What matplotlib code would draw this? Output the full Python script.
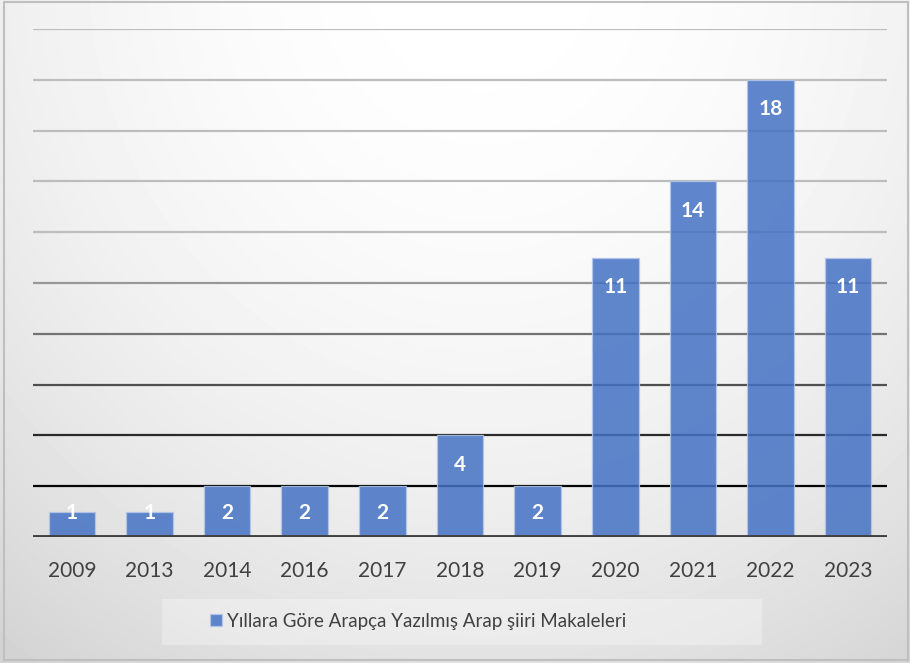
import numpy as np
import matplotlib
matplotlib.use("Agg")
from matplotlib import pyplot as plt
from matplotlib.patches import Rectangle

# veriler
years = ["2009", "2013", "2014", "2016", "2017", "2018", "2019", "2020", "2021", "2022", "2023"]
counts = [1, 1, 2, 2, 2, 4, 2, 11, 14, 18, 11]
series_name = "Yıllara Göre Arapça Yazılmış Arap şiiri Makaleleri"

plt.rcParams['font.family'] = ['Lato', 'DejaVu Sans']

W, H = 910, 663
fig = plt.figure(figsize=(W / 100, H / 100), dpi=100)

# arka plan gradyanı (beyaz merkez, gri kenarlar)
bg = fig.add_axes([0, 0, 1, 1], zorder=-10)
xx, yy = np.meshgrid(np.arange(W), np.arange(H))
r = np.sqrt(((xx - 480) / 455.0) ** 2 + ((yy + 40) / 500.0) ** 2)
g = np.clip(255 - 14.7 * r ** 2, 0, 255) / 255.0
bg.imshow(g, cmap="gray", vmin=0, vmax=1, aspect="auto", interpolation="bilinear")
bg.axis("off")

ax = fig.add_axes([33 / W, 1 - 537 / H, (887 - 33) / W, (537 - 29) / H])
ax.patch.set_alpha(0)
x = np.arange(len(years))

# yatay ızgara çizgileri (yukarıdan aşağı koyulaşan)
for lv in range(2, 21, 2):
    c = float(np.interp(lv, [2, 12], [0.02, 0.74]))
    ax.axhline(lv, color=(c, c, c), lw=1.6, zorder=1)
ax.axhline(0, color="#404040", lw=2.8, zorder=3)

bars = ax.bar(x, counts, width=0.6, color="#4472C4", alpha=0.85,
              edgecolor="#b4c7ea", linewidth=0.9, zorder=2, label=series_name)

for xi, v in zip(x, counts):
    ax.text(xi, max(v - 1.15, 0.95), str(v), ha="center", va="center",
            color="white", fontsize=15, fontweight="bold", zorder=4)

ax.set_xlim(-0.5, len(years) - 0.5)
ax.set_ylim(0, 20)
ax.set_xticks(x)
ax.set_xticklabels(years, fontsize=15, color="#404040")
ax.tick_params(axis="x", length=0, pad=17)
ax.set_yticks([])
for s in ax.spines.values():
    s.set_visible(False)

# lejant kutusu
fig.patches.append(Rectangle((162 / W, 1 - 645 / H), 600 / W, 46 / H,
                             transform=fig.transFigure, facecolor="white",
                             alpha=0.3, edgecolor="none", zorder=0))
fig.legend(handles=[bars], labels=[series_name], loc="center",
           bbox_to_anchor=(418 / W, 1 - 621 / H), frameon=False,
           fontsize=13.5, labelcolor="#404040", handlelength=0.62,
           handleheight=0.62, handletextpad=0.25)

# dış çerçeve
fig.patches.append(Rectangle((3.5 / W, 1 - 659.5 / H), 904 / W, 658 / H,
                             transform=fig.transFigure, facecolor="none",
                             edgecolor="#bfbfbf", lw=1.5))

fig.savefig("out.png", dpi=100)
